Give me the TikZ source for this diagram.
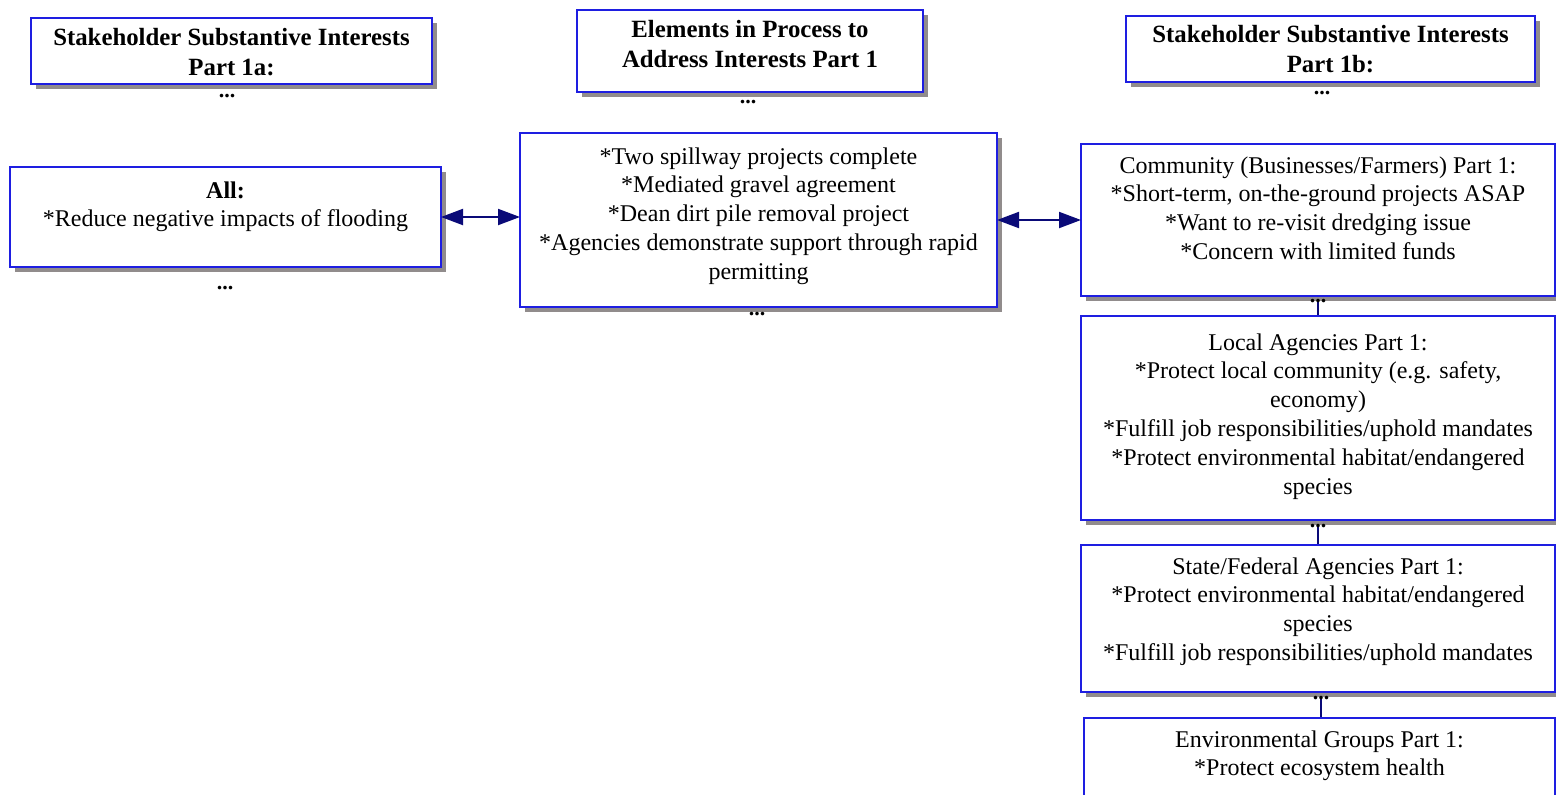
\documentclass[tikz,border=0pt]{standalone}
\usepackage{fontspec}
\setmainfont{Liberation Serif}
\usetikzlibrary{arrows.meta,shadows,calc}
\definecolor{boxblue}{RGB}{30,30,225}
\definecolor{linknavy}{RGB}{10,10,120}
\definecolor{shade}{RGB}{145,140,140}
\begin{document}
\begin{tikzpicture}[x=0.5pt,y=-0.5pt,
  box/.style={draw=boxblue,line width=1pt,fill=white,inner sep=0pt,outer sep=0pt,anchor=north west,
    drop shadow={shadow xshift=2.5pt,shadow yshift=-2.5pt,fill=shade,opacity=1}},
  txt/.style={anchor=north,align=center,inner sep=0pt,font=\fontsize{12}{14.4}\selectfont},
  head/.style={anchor=north,align=center,inner sep=0pt,font=\fontsize{12.4}{15}\selectfont\bfseries},
  dots/.style={anchor=base,inner sep=0pt,font=\fontsize{11}{13}\selectfont\bfseries},
  link/.style={draw=linknavy,line width=1pt,{Triangle[length=11pt,width=8pt]}-{Triangle[length=11pt,width=8pt]}},
  stem/.style={draw=linknavy,line width=0.75pt}]
\useasboundingbox (0,0) rectangle (1556,794);
\clip (0,0) rectangle (1556,794);

% column headers
\node[box,minimum width=200.5pt,minimum height=33pt] (h1a) at (31,18) {};
\node[head] (h1at) at ($(h1a.north)+(0,10)$) {Stakeholder Substantive Interests\\Part 1a:};
\node[dots] (h1ad) at (227,97) {...};

\node[box,minimum width=173pt,minimum height=41pt] (hmid) at (577,10) {};
\node[head] (hmidt) at ($(hmid.north)+(0,10)$) {Elements in Process to\\Address Interests Part 1};
\node[dots] (hmidd) at (748,103) {...};

\node[box,minimum width=204.5pt,minimum height=33pt] (h1b) at (1126,16) {};
\node[head] (h1bt) at ($(h1b.north)+(0,9)$) {Stakeholder Substantive Interests\\Part 1b:};
\node[dots] (h1bd) at (1322,94) {...};

% stems between the stacked stakeholder boxes (drawn first, boxes cover their ends)
\coordinate (s1) at (1318,300);
\coordinate (s2) at (1318,522);
\coordinate (s3) at (1321,694);
\draw[stem] (s1) -- (1318,316);
\draw[stem] (s2) -- (1318,545);
\draw[stem] (s3) -- (1321,718);

% content boxes
\node[box,minimum width=215.5pt,minimum height=50pt] (all) at (10,167) {};
\node[txt] (allt) at ($(all.north)+(0,14)$) {\textbf{All:}\\*Reduce negative impacts of flooding};
\node[dots] (alld) at (225,289) {...};

\node[box,minimum width=238.5pt,minimum height=87pt] (mid) at (520,133) {};
\node[txt] (midt) at ($(mid.north)+(0,14)$) {*Two spillway projects complete\\*Mediated gravel agreement\\*Dean dirt pile removal project\\*Agencies demonstrate support through rapid\\permitting};
\node[dots] (midd) at (757,315) {...};

\node[box,minimum width=237pt,minimum height=76pt] (comm) at (1081,144) {};
\node[txt] (commt) at ($(comm.north)+(0,12)$) {Community (Businesses/Farmers) Part 1:\\*Short-term, on-the-ground projects ASAP\\*Want to re-visit dredging issue\\*Concern with limited funds};
\node[dots] (commd) at (1318,302) {...};

\node[box,minimum width=237pt,minimum height=102pt] (local) at (1081,316) {};
\node[txt] (localt) at ($(local.north)+(0,17)$) {Local Agencies Part 1:\\*Protect local community (e.g. safety,\\economy)\\*Fulfill job responsibilities/uphold mandates\\*Protect environmental habitat/endangered\\species};
\node[dots] (locald) at (1318,527) {...};

\node[box,minimum width=237pt,minimum height=73.5pt] (state) at (1081,545) {};
\node[txt] (statet) at ($(state.north)+(0,12)$) {State/Federal Agencies Part 1:\\*Protect environmental habitat/endangered\\species\\*Fulfill job responsibilities/uphold mandates};
\node[dots] (stated) at (1321,699) {...};

\node[box,minimum width=235.5pt,minimum height=60pt] (env) at (1084,718) {};
\node[txt] (envt) at ($(env.north)+(0,12)$) {Environmental Groups Part 1:\\*Protect ecosystem health};

% two-way links
\draw[link] (all.east) -- (all.east -| mid.west);
\draw[link] (mid.east) -- (mid.east -| comm.west);
\end{tikzpicture}
\end{document}
